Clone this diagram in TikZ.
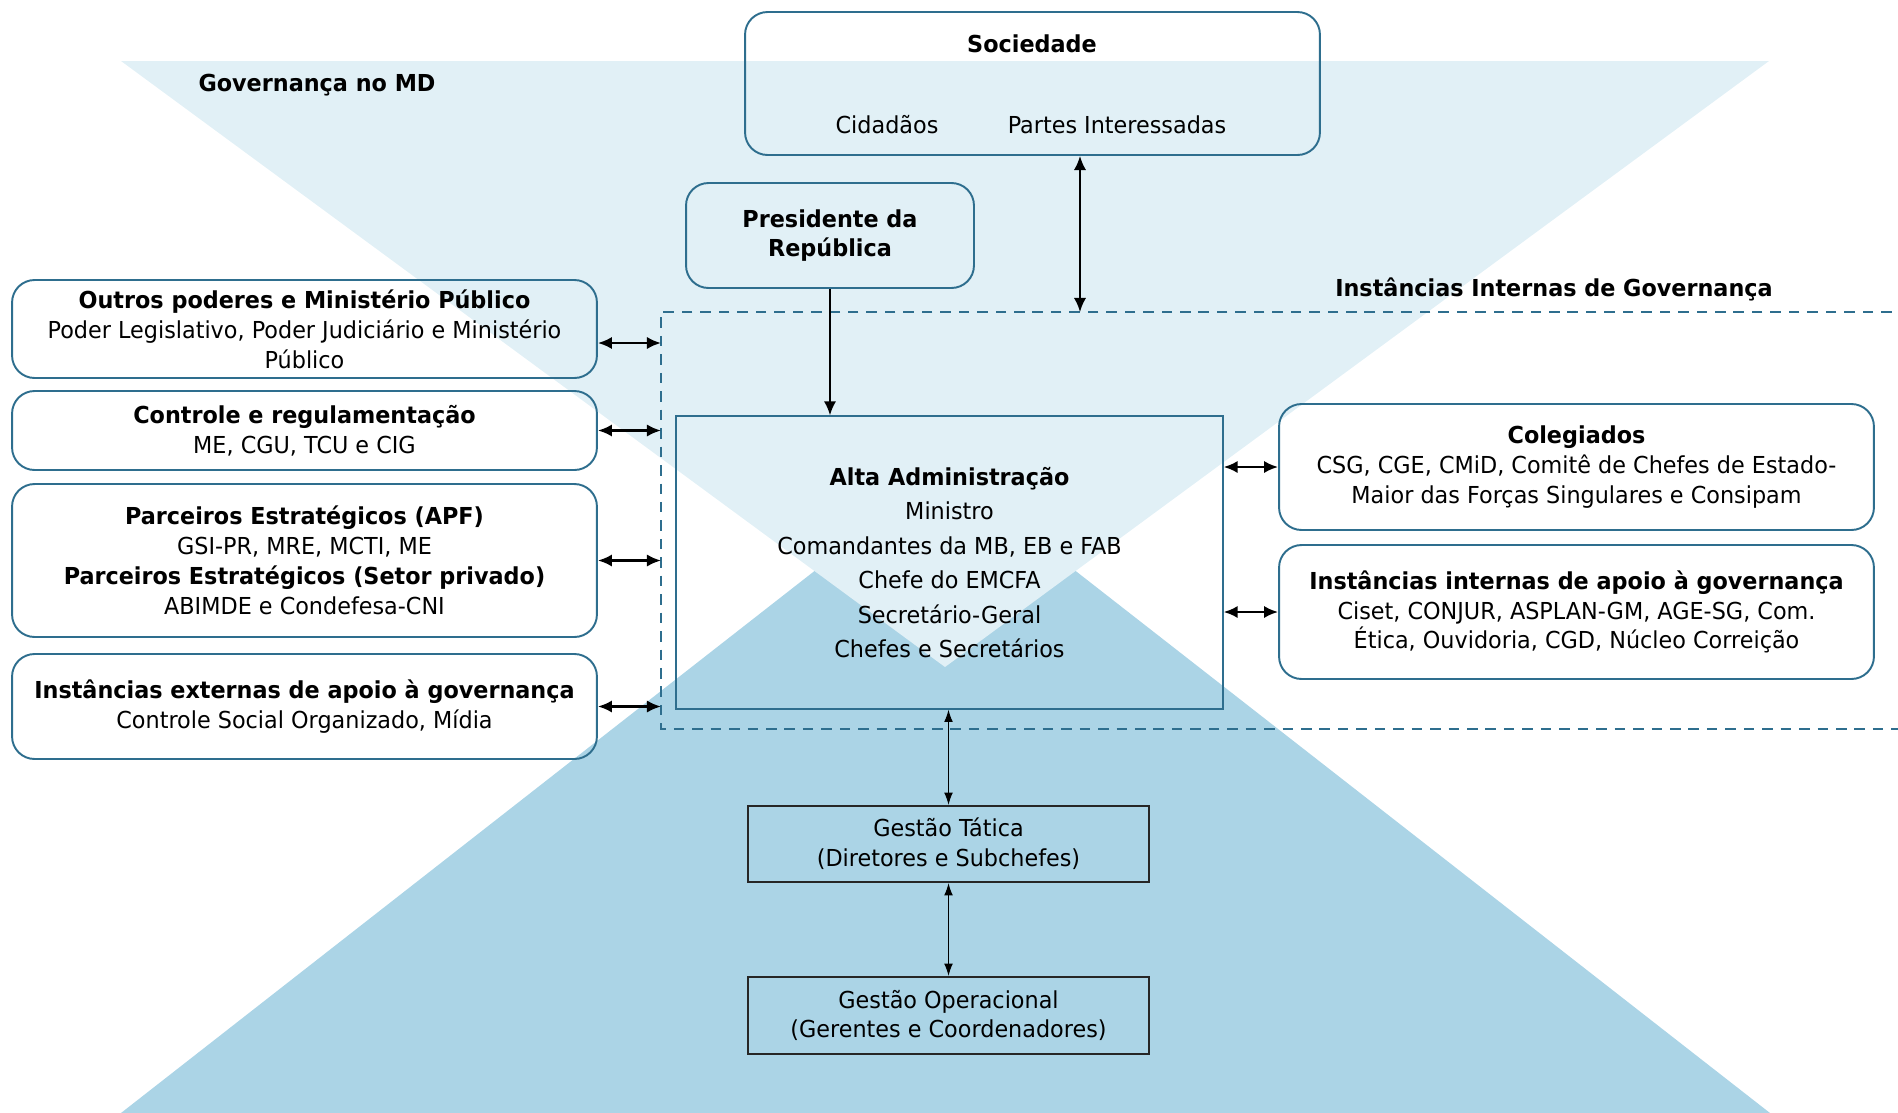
\documentclass[tikz,border=0pt]{standalone}
\usepackage{fontspec}
\setmainfont{DejaVu Sans}[FakeStretch=0.955]
\usepackage{xcolor}
\usetikzlibrary{arrows.meta,positioning}

\definecolor{trilight}{RGB}{225,240,246}
\definecolor{tridark}{RGB}{171,212,230}
\definecolor{boxline}{RGB}{46,110,142}

\tikzset{
  rbox/.style={draw=boxline, line width=1.1pt, rounded corners=0.45cm, align=center, inner sep=0pt,
    font=\fontsize{13.3}{17}\selectfont},
  sqbox/.style={draw=boxline, line width=0.8pt, align=center, inner sep=0pt,
    font=\fontsize{13.3}{19.6}\selectfont},
  gbox/.style={draw=black!85, line width=1.3pt, align=center, inner sep=0pt,
    font=\fontsize{13.3}{17}\selectfont},
  lbl/.style={font=\fontsize{13.3}{17}\selectfont\bfseries, inner sep=0pt},
  txt/.style={font=\fontsize{13.3}{17}\selectfont, inner sep=0pt},
  link/.style={{Latex[length=8pt,width=7pt]}-{Latex[length=8pt,width=7pt]}, line width=1.4pt},
  thinlink/.style={{Latex[length=7pt,width=5pt]}-{Latex[length=7pt,width=5pt]}, line width=0.6pt},
}

\begin{document}
\begin{tikzpicture}[x=0.02cm, y=-0.02cm]
    \useasboundingbox (0,0) rectangle (1898,1113);

    % the two triangles
    \fill[tridark] (121,1113) -- (945,469) -- (1770,1113) -- cycle;
    \fill[trilight] (121,61) -- (1769,61) -- (945,667) -- cycle;

    \node[lbl] (titulo) at (317,85) {Governança no MD};

    % sociedade
    \node[rbox, minimum width=11.5cm, minimum height=2.86cm] (soc) at (1032.5,83.5) {};
    \node[lbl] (soctit) at (1032,44) {Sociedade};
    \node[txt] (cid) at (887,125) {Cidadãos};
    \node[txt] (partes) at (1117,125) {Partes Interessadas};

    \node[rbox, font=\fontsize{13.3}{17}\selectfont\bfseries, minimum width=5.76cm, minimum height=2.1cm] (pres) at (830,235.5) {Presidente da\\República};

    % instancias internas
    \draw[boxline, line width=1.5pt, dash pattern=on 6pt off 4.5pt] (1910,312) -- (661,312) -- (661,729) -- (1910,729);
    \coordinate (inst) at (661,312);
    \node[lbl] (insttit) at (1554,289) {Instâncias Internas de Governança};

    % lado esquerdo
    \node[rbox, minimum width=11.7cm, minimum height=1.96cm] (outros) at (304.5,329)
      {\textbf{Outros poderes e Ministério Público}\\Poder Legislativo, Poder Judiciário e Ministério\\Público};
    \node[rbox, minimum width=11.7cm, minimum height=1.58cm] (controle) at (304.5,430.5)
      {\textbf{Controle e regulamentação}\\ME, CGU, TCU e CIG};
    \node[rbox, minimum width=11.7cm, minimum height=3.06cm] (parc) at (304.5,560.5)
      {\textbf{Parceiros Estratégicos (APF)}\\GSI-PR, MRE, MCTI, ME\\\textbf{Parceiros Estratégicos (Setor privado)}\\ABIMDE e Condefesa-CNI};
    \node[rbox, minimum width=11.7cm, minimum height=2.1cm] (ext) at (304.5,706.5)
      {\textbf{Instâncias externas de apoio à governança}\\Controle Social Organizado, Mídia};

    % centro
    \node[sqbox, minimum width=10.94cm, minimum height=5.86cm] (alta) at (949.5,562.5)
      {\textbf{Alta Administração}\\Ministro\\Comandantes da MB, EB e FAB\\Chefe do EMCFA\\Secretário-Geral\\Chefes e Secretários};

    % lado direito
    \node[rbox, minimum width=11.9cm, minimum height=2.52cm] (coleg) at (1576.5,467)
      {\textbf{Colegiados}\\CSG, CGE, CMiD, Comitê de Chefes de Estado-\\Maior das Forças Singulares e Consipam};
    \node[rbox, minimum width=11.9cm, minimum height=2.68cm] (apoio) at (1576.5,612)
      {\textbf{Instâncias internas de apoio à governança}\\Ciset, CONJUR, ASPLAN-GM, AGE-SG, Com.\\Ética, Ouvidoria, CGD, Núcleo Correição};

    % gestao
    \node[gbox, minimum width=8.02cm, minimum height=1.52cm] (tatica) at (948.5,844)
      {Gestão Tática\\(Diretores e Subchefes)};
    \node[gbox, minimum width=8.02cm, minimum height=1.54cm] (oper) at (948.5,1015.5)
      {Gestão Operacional\\(Gerentes e Coordenadores)};

    % setas
    \draw[-{Latex[length=8pt,width=7pt]}, line width=1.2pt] (pres.south) -- (pres.south |- alta.north);
    \draw[link, line width=1.2pt] ([xshift=0.95cm]soc.south) -- ([xshift=0.95cm]soc.south |- inst);
    \draw[link] ([yshift=-0.28cm]outros.east) -- ([yshift=-0.28cm]outros.east -| inst);
    \draw[link] (controle.east) -- (controle.east -| inst);
    \draw[link] (parc.east) -- (parc.east -| inst);
    \draw[link] (ext.east) -- (ext.east -| inst);
    \draw[link] (coleg.west -| alta.east) -- (coleg.west);
    \draw[link] (apoio.west -| alta.east) -- (apoio.west);
    \draw[thinlink] (tatica.north |- alta.south) -- (tatica.north);
    \draw[thinlink] (tatica.south) -- (oper.north);

\end{tikzpicture}
\end{document}
